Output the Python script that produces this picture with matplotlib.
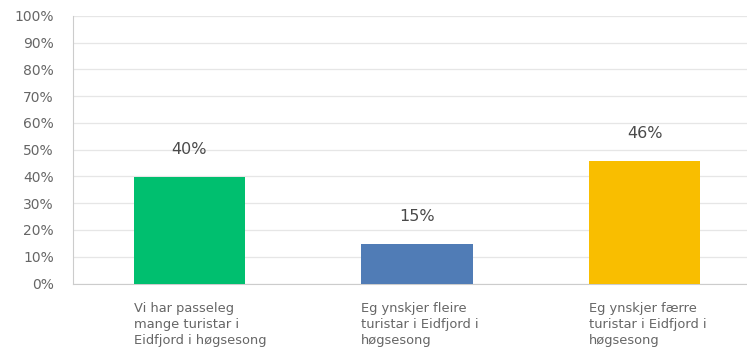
import matplotlib.pyplot as plt

# survey answers
categories = ["Vi har passeleg\nmange turistar i\nEidfjord i høgsesong",
              "Eg ynskjer fleire\nturistar i Eidfjord i\nhøgsesong",
              "Eg ynskjer færre\nturistar i Eidfjord i\nhøgsesong"]
values = [39.6, 14.6, 45.6]
value_labels = ["40%", "15%", "46%"]
colors = ["#00bf6f", "#507cb6", "#f9be00"]
yticks = list(range(0, 101, 10))

fig = plt.figure(figsize=(7.47, 3.58), dpi=100)
ax = fig.add_axes([0.098, 0.208, 0.902, 0.748])

w = 0.49
x = list(range(len(categories)))
ax.bar(x, values, width=w, color=colors, zorder=3)

for i, v in enumerate(values):
    ax.text(i, v + 10.5, value_labels[i], ha='center', va='center',
            fontsize=11.5, color='#4a4a4a')
    ax.text(i - w / 2, -6.8, categories[i], ha='left', va='top',
            fontsize=9.4, color='#666666', linespacing=1.3)

ax.set_ylim(0, 100)
ax.set_xlim(-0.51, 2.45)
ax.set_yticks(yticks)
ax.set_yticklabels([f"{t}%" for t in yticks], fontsize=10, color='#666666')
ax.set_xticks([])
ax.tick_params(axis='y', length=0, pad=14)
ax.grid(axis='y', color='#e6e6e6', linewidth=0.9, zorder=0)
for s in ['top', 'right']:
    ax.spines[s].set_visible(False)
ax.spines['left'].set_color('#cccccc')
ax.spines['bottom'].set_color('#cccccc')

plt.savefig('out.png', dpi=100)
